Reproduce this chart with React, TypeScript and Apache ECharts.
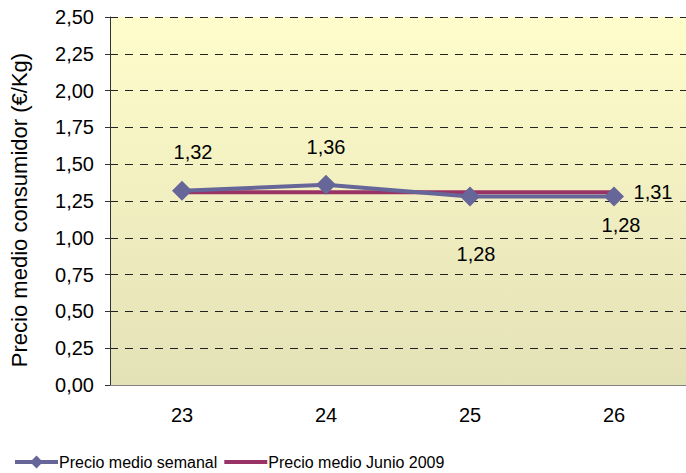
import React, { useEffect, useRef } from "react";
import * as echarts from "echarts";

const categories = ["23", "24", "25", "26"];
const weeklyPrice = [1.32, 1.36, 1.28, 1.28];
const junePrice = [1.31, 1.31, 1.31, 1.31];
const yTicks = { min: 0, max: 2.5, interval: 0.25 };
const seriesNames = ["Precio medio semanal", "Precio medio Junio 2009"];
const yTitle = "Precio medio consumidor (€/Kg)";

// label offsets relative to point centre (layout only)
const weeklyLabelOffsets = [
  [11, -39],
  [0, -38],
  [6, 57],
  [7, 28],
];

const fmt = (v: number) => v.toFixed(2).replace(".", ",");
const FONT = "Liberation Sans, Arial, sans-serif";

export default function App() {
  const ref = useRef<HTMLDivElement>(null);
  useEffect(() => {
    if (!ref.current) return;
    const chart = echarts.init(ref.current, undefined, { renderer: "svg" });
    chart.setOption({
      animation: false,
      textStyle: { fontFamily: FONT },
      grid: {
        left: 110,
        top: 17,
        width: 584,
        height: 368,
        show: true,
        borderWidth: 0,
        backgroundColor: {
          type: "linear",
          x: 0,
          y: 0,
          x2: 0,
          y2: 1,
          colorStops: [
            { offset: 0, color: "#FFFDCB" },
            { offset: 1, color: "#E3E1B6" },
          ],
        },
      },
      legend: {
        left: 8,
        top: 449,
        itemWidth: 43,
        itemHeight: 16,
        itemGap: 5,
        lineStyle: { width: 4 },
        textStyle: { fontSize: 16, color: "#000", fontFamily: FONT, padding: [0, 0, 0, -4] },
        data: [
          { name: seriesNames[0] },
          { name: seriesNames[1], itemStyle: { color: "rgba(0,0,0,0)", borderWidth: 0 } },
        ],
      },
      xAxis: {
        type: "category",
        data: categories,
        boundaryGap: true,
        axisLine: { lineStyle: { color: "#808080", width: 1 } },
        axisTick: { alignWithLabel: true, inside: true, length: 5, lineStyle: { color: "#808080" } },
        axisLabel: { fontSize: 20, color: "#000", margin: 20, fontFamily: FONT },
        splitLine: { show: false },
      },
      yAxis: {
        type: "value",
        min: yTicks.min,
        max: yTicks.max,
        interval: yTicks.interval,
        name: yTitle,
        nameLocation: "middle",
        nameRotate: 90,
        nameGap: 80,
        nameTextStyle: { fontSize: 22, color: "#000", fontFamily: FONT, padding: [0, 18, 0, 0] },
        axisLine: { show: true, lineStyle: { color: "#333", width: 1 } },
        axisTick: { show: true, length: 5, lineStyle: { color: "#333" } },
        axisLabel: { fontSize: 20, color: "#000", margin: 16, formatter: (v: number) => fmt(v), fontFamily: FONT },
        splitLine: { show: true, lineStyle: { color: "#222", type: [8, 7], width: 1 } },
      },
      series: [
        {
          name: seriesNames[1],
          type: "line",
          data: junePrice.map((v, i) =>
            i === junePrice.length - 1
              ? { value: v, label: { show: true, position: "inside", offset: [39, 0] } }
              : v
          ),
          symbol: "circle",
          symbolSize: 1,
          z: 2,
          lineStyle: { color: "#993366", width: 4 },
          itemStyle: { color: "rgba(0,0,0,0)", borderWidth: 0 },
          label: {
            show: false,
            fontSize: 20,
            color: "#000",
            fontFamily: FONT,
            formatter: (p: any) => fmt(p.value),
          },
        },
        {
          name: seriesNames[0],
          type: "line",
          data: weeklyPrice.map((v, i) => ({
            value: v,
            label: { position: "inside", offset: weeklyLabelOffsets[i] },
          })),
          symbol: "diamond",
          symbolSize: 20,
          z: 3,
          lineStyle: { color: "#666699", width: 4 },
          itemStyle: { color: "#666699" },
          label: {
            show: true,
            fontSize: 20,
            color: "#000",
            fontFamily: FONT,
            formatter: (p: any) => fmt(p.value),
          },
        },
      ],
    });
    return () => chart.dispose();
  }, []);
  return (
    <div
      ref={ref}
      style={{ position: "fixed", left: 0, top: 0, width: 686, height: 473, background: "#fff" }}
    />
  );
}
